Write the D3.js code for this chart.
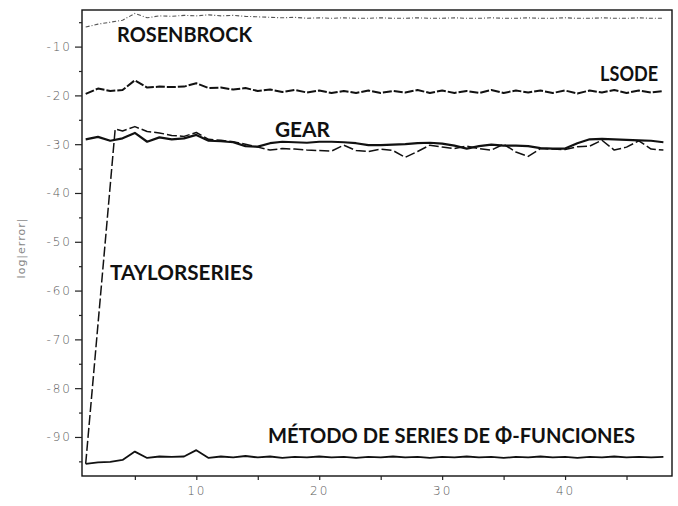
<!DOCTYPE html>
<html>
<head>
<meta charset="utf-8">
<script src="https://cdn.jsdelivr.net/npm/d3@7"></script>
<style>
  html, body { margin: 0; padding: 0; background: #fff; }
  svg { display: block; }
</style>
</head>
<body>
<svg id="chart" width="678" height="506"></svg>
<script>
// ---------- data ----------
const steps = [1,2,3,4,5,6,7,8,9,10,11,12,13,14,15,16,17,18,19,20,21,22,23,24,25,26,27,28,29,30,31,32,33,34,35,36,37,38,39,40,41,42,43,44,45,46,47,48];

const rosenbrock = [-6.0,-5.4,-5.0,-4.6,-3.2,-4.1,-3.7,-3.8,-3.6,-3.7,-3.5,-3.7,-3.6,-3.8,-3.9,-4.0,
  -4.1,-4.0,-4.2,-4.1,-4.2,-4.1,-4.2,-4.2,-4.1,-4.2,-4.2,-4.1,-4.2,-4.2,-4.1,-4.2,
  -4.2,-4.1,-4.2,-4.2,-4.1,-4.2,-4.2,-4.1,-4.2,-4.2,-4.1,-4.2,-4.2,-4.1,-4.2,-4.2];

const lsode = [-19.7,-18.6,-19.1,-18.9,-16.9,-18.4,-18.2,-18.3,-18.2,-17.5,-18.5,-18.4,-18.8,-18.5,-19.1,-18.8,
  -19.3,-18.9,-19.4,-19.0,-19.5,-19.1,-19.5,-19.0,-19.5,-19.1,-19.4,-18.9,-19.5,-19.0,-19.5,-19.1,
  -19.5,-18.9,-19.5,-19.0,-19.4,-19.0,-19.5,-19.0,-19.6,-19.0,-19.4,-18.9,-19.5,-19.0,-19.4,-19.1];

const gear = [-29.0,-28.5,-29.3,-28.8,-27.7,-29.5,-28.6,-29.0,-28.8,-28.1,-29.3,-29.4,-29.6,-30.4,-30.5,-29.8,
  -29.5,-29.6,-29.7,-29.5,-29.5,-29.6,-29.8,-30.2,-30.2,-30.1,-30.0,-29.8,-29.7,-29.9,-30.3,-30.9,
  -30.4,-30.1,-30.3,-30.3,-30.4,-30.8,-30.9,-30.9,-29.8,-29.0,-28.9,-29.0,-29.1,-29.2,-29.3,-29.6];

const taylorSteps = [1,3.4,4,5,6,7,8,9,10,11,12,13,14,15,16,17,18,19,20,21,22,23,24,25,26,27,28,29,30,31,32,33,34,35,36,37,38,39,40,41,42,43,44,45,46,47,48];
const taylor = [-95.5,-26.9,-27.3,-26.4,-27.4,-27.7,-28.2,-28.4,-27.6,-29.0,-29.2,-29.5,-30.0,-30.6,-31.2,-30.9,
  -31.0,-31.2,-31.3,-31.4,-30.2,-31.3,-31.5,-31.0,-31.3,-32.7,-31.5,-30.2,-30.6,-30.9,-30.4,-30.9,
  -31.2,-30.0,-31.6,-32.5,-30.9,-31.0,-31.1,-30.5,-30.4,-29.2,-31.2,-30.6,-29.3,-31.0,-31.2];

const metodo = [-95.5,-95.2,-95.1,-94.7,-93.0,-94.3,-94.0,-94.1,-94.0,-92.7,-94.3,-94.0,-94.2,-93.9,-94.2,-94.0,
  -94.3,-94.1,-94.2,-94.0,-94.2,-94.1,-94.3,-94.1,-94.2,-94.0,-94.2,-94.1,-94.3,-94.1,-94.2,-94.0,
  -94.2,-94.1,-94.3,-94.1,-94.2,-94.0,-94.2,-94.1,-94.3,-94.1,-94.2,-94.0,-94.2,-94.1,-94.2,-94.1];

const yMajorTicks = [-10,-20,-30,-40,-50,-60,-70,-80,-90];
const yMinorTicks = [-5,-15,-25,-35,-45,-55,-65,-75,-85,-95];
const xMajorTicks = [10,20,30,40];
const xMinorTicks = [5,15,25,35,45];

const seriesNames = ["ROSENBROCK","LSODE","GEAR","TAYLORSERIES","MÉTODO DE SERIES DE Φ-FUNCIONES"];
const yAxisTitle = "log|error|";

// ---------- layout ----------
const svg = d3.select("#chart");
const pLeft = 82, pRight = 672, pTop = 10, pBottom = 476;

const x = d3.scaleLinear().domain([0.7, 48.7]).range([pLeft, pRight]);
const y = d3.scaleLinear().domain([-98, -2.5]).range([pBottom, pTop]);

// frame
svg.append("rect")
  .attr("x", pLeft).attr("y", pTop)
  .attr("width", pRight - pLeft).attr("height", pBottom - pTop)
  .attr("fill", "none").attr("stroke", "#111").attr("stroke-width", 1.4);

// y axis
const tickFont = "'DejaVu Sans', sans-serif";
const yAxis = svg.append("g").attr("transform", `translate(${pLeft},0)`)
  .call(d3.axisLeft(y).tickValues(yMajorTicks).tickSize(7).tickPadding(3)
        .tickFormat(d => "-" + Math.abs(d)));
yAxis.select(".domain").remove();
yAxis.selectAll(".tick line").attr("stroke", "#222").attr("stroke-width", 1.2);
yAxis.selectAll(".tick text")
  .attr("fill", "#5a5a5a").style("font-family", tickFont).style("font-size", "12px")
  .style("letter-spacing", "2px").style("font-weight", "300");

const yAxisMinor = svg.append("g").attr("transform", `translate(${pLeft},0)`)
  .call(d3.axisLeft(y).tickValues(yMinorTicks).tickSize(3).tickFormat(""));
yAxisMinor.select(".domain").remove();
yAxisMinor.selectAll(".tick line").attr("stroke", "#222").attr("stroke-width", 1.2);

// x axis
const xAxis = svg.append("g").attr("transform", `translate(0,${pBottom})`)
  .call(d3.axisBottom(x).tickValues(xMajorTicks).tickSize(4).tickPadding(6));
xAxis.select(".domain").remove();
xAxis.selectAll(".tick line").attr("stroke", "#222").attr("stroke-width", 1.2);
xAxis.selectAll(".tick text")
  .attr("fill", "#5a5a5a").style("font-family", tickFont).style("font-size", "12px")
  .style("letter-spacing", "2px").style("font-weight", "300");

const xAxisMinor = svg.append("g").attr("transform", `translate(0,${pBottom})`)
  .call(d3.axisBottom(x).tickValues(xMinorTicks).tickSize(4).tickFormat(""));
xAxisMinor.select(".domain").remove();
xAxisMinor.selectAll(".tick line").attr("stroke", "#222").attr("stroke-width", 1.2);

// y axis title
svg.append("text")
  .attr("transform", `translate(25,${(pTop + pBottom) / 2 + 5}) rotate(-90)`)
  .attr("text-anchor", "middle")
  .attr("fill", "#888")
  .style("font-family", tickFont).style("font-size", "11px")
  .style("letter-spacing", "1px")
  .text(yAxisTitle);

// ---------- lines ----------
const line = d3.line().x(d => x(d[0])).y(d => y(d[1]));
const zip = (xs, ys) => xs.map((v, i) => [v, ys[i]]);

const series = [
  { name: seriesNames[0], pts: zip(steps, rosenbrock), dash: "4,2,1,2", width: 1.1, color: "#555" },
  { name: seriesNames[1], pts: zip(steps, lsode), dash: "9,2", width: 2, color: "#111" },
  { name: seriesNames[3], pts: zip(taylorSteps, taylor), dash: "10,3", width: 1.5, color: "#111" },
  { name: seriesNames[2], pts: zip(steps, gear), dash: null, width: 2.2, color: "#111" },
  { name: seriesNames[4], pts: zip(steps, metodo), dash: null, width: 1.8, color: "#111" }
];

svg.append("g").selectAll("path").data(series).join("path")
  .attr("d", d => line(d.pts))
  .attr("fill", "none")
  .attr("stroke", d => d.color)
  .attr("stroke-width", d => d.width)
  .attr("stroke-linejoin", "round")
  .attr("stroke-dasharray", d => d.dash);

// ---------- labels (anchored in data units) ----------
const labels = [
  { text: seriesNames[0], at: [3.55, -9.06], len: 135 },
  { text: seriesNames[1], at: [42.85, -17.05], len: 58 },
  { text: seriesNames[2], at: [16.4, -28.5], len: 55 },
  { text: seriesNames[3], at: [2.98, -57.8], len: 143 },
  { text: seriesNames[4], at: [15.83, -91.2], len: 367 }
];

svg.append("g").selectAll("text").data(labels).join("text")
  .attr("x", d => x(d.at[0]))
  .attr("y", d => y(d.at[1]))
  .attr("textLength", d => d.len)
  .attr("lengthAdjust", "spacingAndGlyphs")
  .attr("fill", "#111")
  .style("font-family", "Lato, 'Open Sans', sans-serif")
  .style("font-weight", "bold")
  .style("font-size", "21px")
  .text(d => d.text);
</script>
</body>
</html>
